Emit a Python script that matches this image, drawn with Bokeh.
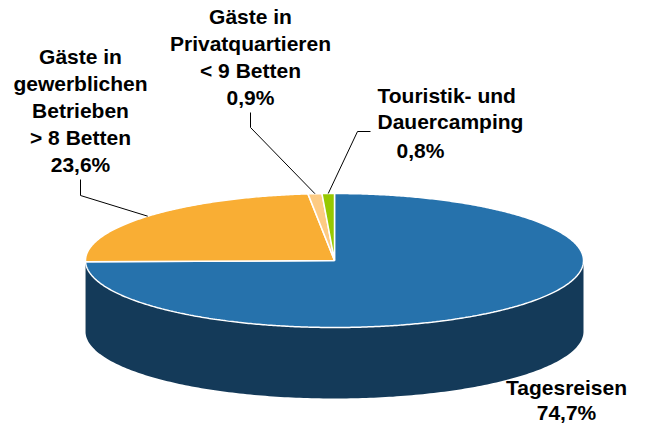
import numpy as np
from bokeh.plotting import figure
from bokeh.models import Range1d
from bokeh.core.properties import value
from bokeh.embed import file_html
from bokeh.resources import INLINE

# ---- data ----
categories = ["Tagesreisen",
              "Gäste in gewerblichen Betrieben > 8 Betten",
              "Gäste in Privatquartieren < 9 Betten",
              "Touristik- und Dauercamping"]
label_lines = [["Tagesreisen"],
               ["Gäste in", "gewerblichen", "Betrieben", "> 8 Betten"],
               ["Gäste in", "Privatquartieren", "< 9 Betten"],
               ["Touristik- und", "Dauercamping"]]
values = [74.7, 23.6, 0.9, 0.8]
top_colors = ["#2672AC", "#F9AE34", "#FDCB83", "#97C800"]
side_colors = ["#143A59", "#B97E22", "#C09A60", "#6E9200"]

# ---- geometry (pixel-space layout) ----
W, H = 630, 423
cx, cy = 334, 264
a, b = 249, 67
depth = 71

p = figure(width=W, height=H, output_backend="svg", toolbar_location=None,
           x_range=Range1d(0, W), y_range=Range1d(H + 4, 4), min_border=0)
p.axis.visible = False
p.grid.visible = False
p.outline_line_color = None
p.background_fill_color = "white"
p.border_fill_color = "white"

def pt(theta_deg, dy=0.0):
    t = np.radians(theta_deg)
    return cx + a * np.sin(t), cy - b * np.cos(t) + dy

vals = np.array(values, dtype=float)
fr = vals / vals.sum()
ends = np.cumsum(fr) * 360.0
starts = ends - fr * 360.0

# ---- side wall (front half, 90..270 deg clockwise from top) ----
for s, e, col in zip(starts, ends, side_colors):
    lo, hi = max(s, 90.0), min(e, 270.0)
    if hi <= lo:
        continue
    th = np.linspace(lo, hi, 200)
    xs_top, ys_top = pt(th)
    xs_bot, ys_bot = pt(th[::-1], depth)
    p.patch(np.concatenate([xs_top, xs_bot]), np.concatenate([ys_top, ys_bot]),
            fill_color=col, line_color=None)

# ---- top face slices ----
xs_list, ys_list = [], []
for s, e in zip(starts, ends):
    th = np.linspace(s, e, max(int((e - s) * 2), 4))
    x, y = pt(th)
    xs_list.append(np.concatenate([[cx], x, [cx]]))
    ys_list.append(np.concatenate([[cy], y, [cy]]))
p.patches(xs_list, ys_list, fill_color=top_colors, line_color="white", line_width=1.5)

# ---- labels ----
font = value("Liberation Sans")
fs = "21px"
def pct(v):
    return f"{v:.1f}".replace(".", ",") + "%"

mids = (starts + ends) / 2.0
common = dict(text_font=font, text_font_style="bold", text_font_size=fs,
              text_baseline="middle", text_color="black")

# Tagesreisen (bottom right)
lab0 = label_lines[0] + [pct(values[0])]
p.text(x=[566] * len(lab0), y=[391 + 25 * i for i in range(len(lab0))], text=lab0,
       text_align="center", **common)

# gewerbliche Betriebe (left)
lab1 = label_lines[1] + [pct(values[1])]
p.text(x=[80] * len(lab1), y=[60 + 27 * i for i in range(len(lab1))], text=lab1,
       text_align="center", **common)
ex, ey = pt(mids[1])
p.line([ex, 80, 80], [ey, 199, 183], line_color="black", line_width=1)

# Privatquartiere (top middle)
lab2 = label_lines[2] + [pct(values[2])]
p.text(x=[250] * len(lab2), y=[20 + 27 * i for i in range(len(lab2))], text=lab2,
       text_align="center", **common)
ex, ey = pt(mids[2])
p.line([ex, 250, 250], [ey, 131, 116], line_color="black", line_width=1)

# Camping (right)
lab3 = label_lines[3]
p.text(x=[377] * len(lab3), y=[99 + 26 * i for i in range(len(lab3))], text=lab3,
       text_align="left", **common)
p.text(x=[396], y=[154], text=[pct(values[3])], text_align="left", **common)
ex, ey = pt(mids[3])
p.line([ex, 357, 370], [ey, 135, 135], line_color="black", line_width=1)

open("out.html", "w").write(file_html(p, INLINE))
